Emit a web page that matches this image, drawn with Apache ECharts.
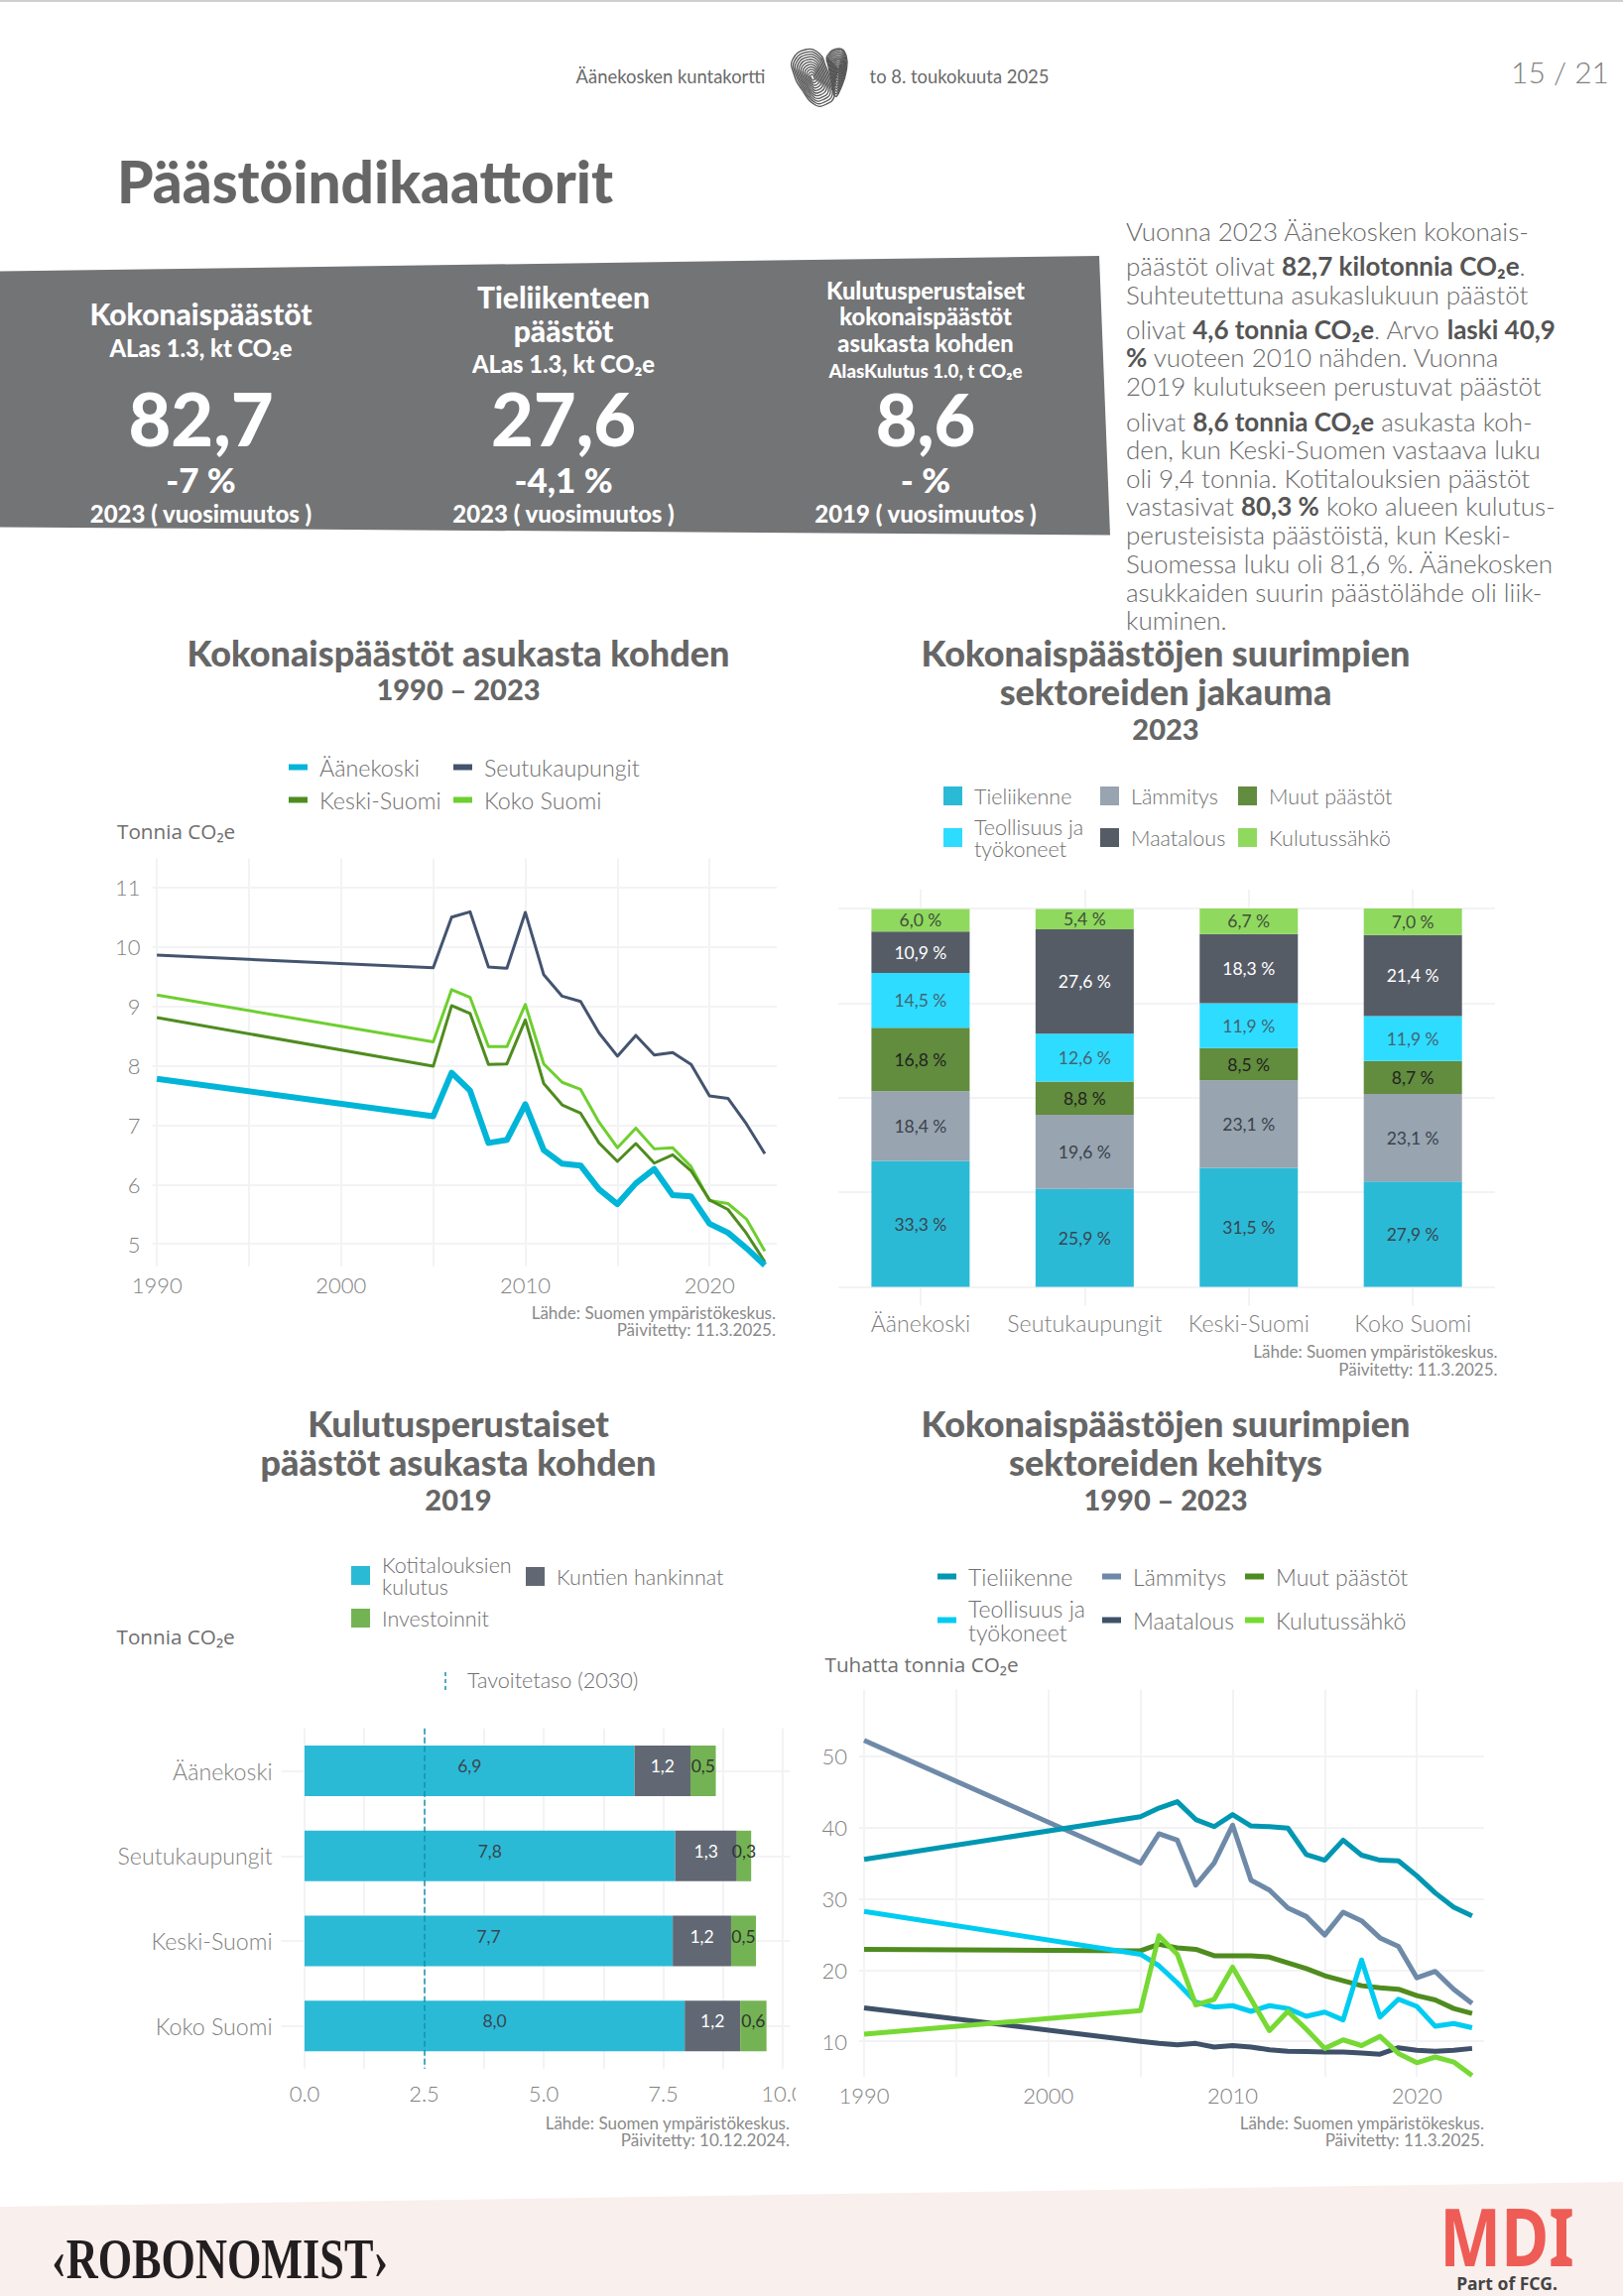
<!DOCTYPE html>
<html>
<head>
<meta charset="utf-8">
<title>Päästöindikaattorit</title>
<script src="https://cdn.jsdelivr.net/npm/echarts@6/dist/echarts.min.js"></script>
<style>
html, body { margin: 0; padding: 0; background: #fff; }
#page { width: 1636px; height: 2315px; }
</style>
</head>
<body>
<div id="page"></div>
<script>
// vuodet, 1990 jalkeen sarja alkaa vasta 2005
var years = [1990, 2005, 2006, 2007, 2008, 2009, 2010, 2011, 2012, 2013, 2014, 2015, 2016, 2017, 2018, 2019, 2020, 2021, 2022, 2023];

// kuva 1: kokonaispaastot asukasta kohden
var perCapitaAanekoski = [7.78, 7.15, 7.88, 7.58, 6.70, 6.75, 7.35, 6.58, 6.35, 6.32, 5.92, 5.67, 6.02, 6.26, 5.82, 5.80, 5.34, 5.19, 4.93, 4.64];
var perCapitaSeutu = [9.86, 9.65, 10.50, 10.59, 9.66, 9.64, 10.58, 9.53, 9.17, 9.08, 8.55, 8.16, 8.51, 8.18, 8.22, 8.02, 7.49, 7.45, 7.02, 6.52];
var perCapitaKeski = [8.81, 7.99, 9.01, 8.88, 8.02, 8.03, 8.77, 7.70, 7.34, 7.20, 6.70, 6.39, 6.69, 6.36, 6.50, 6.23, 5.74, 5.58, 5.18, 4.70];
var perCapitaKoko = [9.19, 8.40, 9.28, 9.15, 8.32, 8.32, 9.03, 8.03, 7.72, 7.60, 7.05, 6.62, 6.95, 6.60, 6.62, 6.30, 5.73, 5.68, 5.42, 4.88];

// kuva 2: sektoreiden jakauma 2023
var regions = ['Äänekoski', 'Seutukaupungit', 'Keski-Suomi', 'Koko Suomi'];
var shareTie = [33.3, 25.9, 31.5, 27.9];
var shareLam = [18.4, 19.6, 23.1, 23.1];
var shareMuut = [16.8, 8.8, 8.5, 8.7];
var shareTeol = [14.5, 12.6, 11.9, 11.9];
var shareMaa = [10.9, 27.6, 18.3, 21.4];
var shareSahko = [6.0, 5.4, 6.7, 7.0];

// kuva 3: kulutusperustaiset 2019
var consHouseholds = [6.90, 7.75, 7.70, 7.95];
var consMunicip = [1.17, 1.29, 1.22, 1.16];
var consInvest = [0.53, 0.30, 0.52, 0.55];
var targetLevel = 2.5;

// kuva 4: sektoreiden kehitys
var sectorTie = [35.5, 41.5, 42.7, 43.6, 41.1, 40.1, 41.8, 40.2, 40.1, 39.9, 36.2, 35.4, 38.2, 36.1, 35.4, 35.3, 33.2, 30.8, 28.8, 27.6];
var sectorLam = [52.2, 35.0, 39.1, 38.2, 31.9, 35.0, 40.3, 32.6, 31.2, 28.7, 27.5, 24.9, 28.1, 26.9, 24.5, 23.3, 18.9, 19.8, 17.3, 15.3];
var sectorTeol = [28.2, 22.2, 20.6, 18.2, 15.5, 14.8, 15.0, 14.2, 15.0, 14.6, 13.5, 14.1, 13.0, 21.4, 13.4, 15.9, 14.9, 12.1, 12.5, 11.9];
var sectorMuut = [22.9, 22.7, 23.6, 23.1, 22.9, 22.0, 22.0, 22.0, 21.8, 21.0, 20.2, 19.2, 18.5, 17.8, 17.5, 17.3, 16.4, 15.8, 14.6, 13.9];
var sectorMaa = [14.7, 10.0, 9.7, 9.5, 9.7, 9.2, 9.4, 9.2, 8.8, 8.6, 8.55, 8.5, 8.5, 8.35, 8.2, 9.1, 8.75, 8.6, 8.75, 9.0];
var sectorSahko = [11.0, 14.3, 24.8, 22.2, 15.1, 15.9, 20.4, 15.9, 11.5, 14.2, 11.7, 9.0, 10.2, 9.4, 10.7, 8.3, 7.0, 7.8, 7.1, 5.2];

// akselien merkinnat
var yearTicks = [1990, 1995, 2000, 2005, 2010, 2015, 2020];
var yearLabels = [1990, 2000, 2010, 2020];
var perCapitaTicks = [5, 6, 7, 8, 9, 10, 11];
var shareTicks = [0, 25, 50, 75, 100];
var consTicks = [0, 1.25, 2.5, 3.75, 5, 6.25, 7.5, 8.75, 10];
var consLabels = [0, 2.5, 5, 7.5, 10];
var sectorTicks = [10, 20, 30, 40, 50];

// sivun tekstit
var paragraph = [
    'Vuonna 2023 Äänekosken kokonais-',
    'päästöt olivat {b|82,7 kilotonnia CO₂e}.',
    'Suhteutettuna asukaslukuun päästöt',
    'olivat {b|4,6 tonnia CO₂e}. Arvo {b|laski 40,9}',
    '{b|%} vuoteen 2010 nähden. Vuonna',
    '2019 kulutukseen perustuvat päästöt',
    'olivat {b|8,6 tonnia CO₂e} asukasta koh-',
    'den, kun Keski-Suomen vastaava luku',
    'oli 9,4 tonnia. Kotitalouksien päästöt',
    'vastasivat {b|80,3 %} koko alueen kulutus-',
    'perusteisista päästöistä, kun Keski-',
    'Suomessa luku oli 81,6 %. Äänekosken',
    'asukkaiden suurin päästölähde oli liik-',
    'kuminen.'
];
var paragraphY = [234.7, 270, 298.8, 333.5, 362.4, 391, 426.5, 455, 483.7, 512, 541, 570, 599, 626.5];

var FONT = 'Lato';
var GRID = '#f3f3f5';
var AXIS_TEXT = '#7f7f7f';
var LEGEND_TEXT = '#6f6f6f';
var TITLE = '#666666';

function pairs(vals) {
    var res = [];
    for (var i = 0; i < vals.length; i++) {
        res.push([years[i], vals[i]]);
    }
    return res;
}

function txt(x, y, s, size, color, weight, align, family) {
    return {
        type: 'text', x: x, y: y - 2, z: 50, silent: true,
        style: {
            text: s, fontSize: size, fill: color, fontWeight: weight || 'normal',
            fontFamily: family || FONT, textAlign: align || 'left', align: align || 'left',
            textVerticalAlign: 'middle', verticalAlign: 'middle'
        }
    };
}

function comma(v, suffix) {
    return v.toFixed(1).replace('.', ',') + (suffix || '');
}

function lineSeries(name, vals, color, width, axis) {
    return {
        name: name, type: 'line', xAxisIndex: axis, yAxisIndex: axis,
        data: pairs(vals), symbol: 'none', silent: true, animation: false,
        lineStyle: {color: color, width: width, join: 'round'}
    };
}

function stackBar(name, vals, color, labelColor, axis, suffix, width, offset) {
    return {
        name: name, type: 'bar', stack: 'stack' + axis, xAxisIndex: axis, yAxisIndex: axis,
        data: vals, barWidth: width, silent: true, animation: false,
        itemStyle: {color: color},
        label: {
            show: true, position: 'inside', color: labelColor, fontFamily: FONT, fontSize: 17.5,
            offset: offset,
            formatter: function (p) { return comma(p.value, suffix); }
        }
    };
}

// yksi selite per rivi, niin paikat saa suoraan kuvasta
function legendItem(name, color, x, yc, kind, size, lines) {
    var n = lines || 1;
    var lh = size >= 22 ? 24 : 22;
    return {
        left: x, top: yc - 1.5 - n * lh / 2, padding: 0, orient: 'vertical', selectedMode: false,
        itemWidth: 19, itemHeight: kind === 'line' ? 6 : 19, icon: 'rect',
        textStyle: {fontFamily: FONT, fontSize: size, fontWeight: 300, color: LEGEND_TEXT, lineHeight: lh, padding: [0, 0, 0, 7]},
        data: [{name: name, itemStyle: {color: color}}]
    };
}

function yearAxis(idx, min, max) {
    return {
        type: 'value', gridIndex: idx, min: min, max: max,
        axisLine: {show: false}, axisTick: {show: false, customValues: yearTicks},
        splitLine: {show: true, lineStyle: {color: GRID, width: 2}},
        axisLabel: {
            customValues: yearLabels, color: AXIS_TEXT, fontFamily: FONT, fontSize: 22, fontWeight: 300, margin: 7,
            formatter: function (v) { return String(v); }
        }
    };
}

function sideAxis(idx, min, max, ticks, labels) {
    return {
        type: 'value', gridIndex: idx, min: min, max: max,
        axisLine: {show: false}, axisTick: {show: false, customValues: ticks},
        splitLine: {show: true, lineStyle: {color: GRID, width: 2}},
        axisLabel: {
            show: labels !== false, customValues: ticks, color: AXIS_TEXT, fontFamily: FONT, fontSize: 22, fontWeight: 300, margin: 12
        }
    };
}

// sormenjalki-sydan, sisakkaisia aaltoviivoja
function lobe(points, cx, cy) {
    var ks = [1, 0.91, 0.82, 0.73, 0.64, 0.55, 0.46, 0.37, 0.28, 0.19, 0.10];
    var out = [];
    for (var i = 0; i < ks.length; i++) {
        var pts = [];
        for (var j = 0; j < points.length; j++) {
            pts.push([cx + (points[j][0] - cx) * ks[i], cy + (points[j][1] - cy) * ks[i]]);
        }
        out.push({
            type: 'polygon', z: 50, silent: true,
            shape: {points: pts, smooth: 0.5},
            style: {fill: 'none', stroke: '#555555', lineWidth: 1.3}
        });
    }
    return out;
}

function pageGraphics() {
    var g = [];
    var i;
    // ylarivi
    g.push({type: 'rect', z: 1, silent: true, shape: {x: 0, y: 0, width: 1636, height: 2}, style: {fill: '#cfcfcf'}});
    g.push(txt(676, 79, 'Äänekosken kuntakortti', 18.4, '#6a6a6a', 'normal', 'center'));
    g.push(txt(967, 79, 'to 8. toukokuuta 2025', 18.4, '#6a6a6a', 'normal', 'center'));
    g.push(txt(1622, 74, '15 / 21', 30, '#808080', '300', 'right'));
    g = g.concat(lobe([[799, 60], [812, 50], [826, 54], [832, 66], [838, 84], [841, 97], [833, 105], [822, 106], [808, 90], [800, 74]], 819, 78));
    g = g.concat(lobe([[834, 56], [846, 49], [853, 56], [853, 72], [848, 88], [842, 97], [838, 80], [835, 67]], 845, 68));
    g.push(txt(118, 184, 'Päästöindikaattorit', 58.5, TITLE, '900'));

    // harmaa nauha
    g.push({type: 'polygon', z: 1, silent: true, shape: {points: [[0, 273.5], [1108, 258], [1119, 539.6], [0, 531.4]]}, style: {fill: '#737476'}});
    var w = '#ffffff';
    g.push(txt(202.5, 317.5, 'Kokonaispäästöt', 30, w, '900', 'center'));
    g.push(txt(202.5, 353, 'ALas 1.3, kt CO₂e', 23.7, w, '900', 'center'));
    g.push(txt(202.5, 423, '82,7', 74, w, '900', 'center'));
    g.push(txt(202.5, 485, '-7 %', 35, w, '900', 'center'));
    g.push(txt(202.5, 519, '2023 ( vuosimuutos )', 24, w, '900', 'center'));

    g.push(txt(568, 301, 'Tieliikenteen', 30, w, '900', 'center'));
    g.push(txt(568, 335, 'päästöt', 30, w, '900', 'center'));
    g.push(txt(568, 369, 'ALas 1.3, kt CO₂e', 23.7, w, '900', 'center'));
    g.push(txt(568, 423, '27,6', 74, w, '900', 'center'));
    g.push(txt(568, 485, '-4,1 %', 35, w, '900', 'center'));
    g.push(txt(568, 519, '2023 ( vuosimuutos )', 24, w, '900', 'center'));

    g.push(txt(933, 295, 'Kulutusperustaiset', 23.7, w, '900', 'center'));
    g.push(txt(933, 321, 'kokonaispäästöt', 23.7, w, '900', 'center'));
    g.push(txt(933, 348, 'asukasta kohden', 23.7, w, '900', 'center'));
    g.push(txt(933, 375, 'AlasKulutus 1.0, t CO₂e', 18.8, w, '900', 'center'));
    g.push(txt(933, 424, '8,6', 72, w, '900', 'center'));
    g.push(txt(933, 485, '- %', 35, w, '900', 'center'));
    g.push(txt(933, 519, '2019 ( vuosimuutos )', 24, w, '900', 'center'));

    // kappale
    for (i = 0; i < paragraph.length; i++) {
        var line = txt(1135, paragraphY[i], paragraph[i], 26, '#6a6a6a', '300');
        line.style.rich = {b: {fontSize: 26, fontFamily: FONT, fontWeight: 'bold', fill: '#555555'}};
        g.push(line);
    }

    // kuvien otsikot
    g.push(txt(462, 659.5, 'Kokonaispäästöt asukasta kohden', 36, TITLE, '900', 'center'));
    g.push(txt(462, 696, '1990 – 2023', 29, TITLE, '900', 'center'));
    g.push(txt(1175, 660, 'Kokonaispäästöjen suurimpien', 36, TITLE, '900', 'center'));
    g.push(txt(1175, 699, 'sektoreiden jakauma', 36, TITLE, '900', 'center'));
    g.push(txt(1175, 736, '2023', 29, TITLE, '900', 'center'));
    g.push(txt(462, 1436.5, 'Kulutusperustaiset', 36, TITLE, '900', 'center'));
    g.push(txt(462, 1476, 'päästöt asukasta kohden', 36, TITLE, '900', 'center'));
    g.push(txt(462, 1513, '2019', 29, TITLE, '900', 'center'));
    g.push(txt(1175, 1436.5, 'Kokonaispäästöjen suurimpien', 36, TITLE, '900', 'center'));
    g.push(txt(1175, 1476, 'sektoreiden kehitys', 36, TITLE, '900', 'center'));
    g.push(txt(1175, 1513, '1990 – 2023', 29, TITLE, '900', 'center'));

    // yksikot
    g.push(txt(118, 840, 'Tonnia CO₂e', 20.7, '#6e6e6e', 'normal', 'left', 'Open Sans'));
    g.push(txt(117.5, 1652, 'Tonnia CO₂e', 20.7, '#6e6e6e', 'normal', 'left', 'Open Sans'));
    g.push(txt(831.5, 1680, 'Tuhatta tonnia CO₂e', 20.7, '#6e6e6e', 'normal', 'left', 'Open Sans'));

    // lahteet
    var srcColor = '#8a8a8a';
    g.push(txt(782, 1325, 'Lähde: Suomen ympäristökeskus.', 17, srcColor, 'normal', 'right'));
    g.push(txt(782, 1342.5, 'Päivitetty: 11.3.2025.', 17, srcColor, 'normal', 'right'));
    g.push(txt(1509.6, 1364.5, 'Lähde: Suomen ympäristökeskus.', 17, srcColor, 'normal', 'right'));
    g.push(txt(1509.6, 1382.5, 'Päivitetty: 11.3.2025.', 17, srcColor, 'normal', 'right'));
    g.push(txt(796, 2142, 'Lähde: Suomen ympäristökeskus.', 17, srcColor, 'normal', 'right'));
    g.push(txt(796, 2159.5, 'Päivitetty: 10.12.2024.', 17, srcColor, 'normal', 'right'));
    g.push(txt(1496, 2142, 'Lähde: Suomen ympäristökeskus.', 17, srcColor, 'normal', 'right'));
    g.push(txt(1496, 2159.5, 'Päivitetty: 11.3.2025.', 17, srcColor, 'normal', 'right'));

    // tavoitetason selite
    g.push({type: 'line', z: 50, silent: true, shape: {x1: 449, y1: 1686, x2: 449, y2: 1704}, style: {stroke: '#1293ad', lineWidth: 1.5, lineDash: [4, 3]}});
    g.push(txt(471, 1695.5, 'Tavoitetaso (2030)', 21.6, LEGEND_TEXT, '300'));

    // 10.0 katkeaa alkuperaisessa kuvassa reunaan
    g.push({type: 'rect', z: 60, silent: true, shape: {x: 802, y: 2096, width: 24, height: 30}, style: {fill: '#ffffff'}});

    // alaosa
    g.push({type: 'polygon', z: 1, silent: true, shape: {points: [[0, 2225], [1636, 2200], [1636, 2315], [0, 2315]]}, style: {fill: '#f9efed'}});
    var robo = txt(52, 2280, '‹ROBONOMIST›', 56, '#231f20', 'bold', 'left', 'Liberation Serif');
    robo.scaleX = 0.79;
    g.push(robo);
    var mdi = txt(1519, 2256, 'MDI', 80, '#ee5c55', 'bold', 'center', 'Noto Sans');
    mdi.scaleX = 0.82;
    g.push(mdi);
    g.push(txt(1519, 2303.5, 'Part of FCG.', 17.5, '#444444', 'bold', 'center', 'Noto Sans'));
    return g;
}

var myChart = echarts.init(document.getElementById('page'), null, {renderer: 'svg'});

myChart.setOption({
    animation: false,
    backgroundColor: '#ffffff',
    graphic: pageGraphics(),
    grid: [
        {left: 153.5, top: 865.4, width: 629.5, height: 411.6},
        {left: 845.2, top: 897, width: 661.7, height: 419.5},
        {left: 283.6, top: 1742.7, width: 512.9, height: 343},
        {left: 866, top: 1703.5, width: 629.8, height: 390.5}
    ],
    xAxis: [
        yearAxis(0, 1989.75, 2023.65),
        {
            type: 'category', gridIndex: 1, data: regions,
            axisLine: {show: false}, axisTick: {show: false},
            splitLine: {show: true, alignWithLabel: true, lineStyle: {color: GRID, width: 2}},
            axisLabel: {color: AXIS_TEXT, fontFamily: FONT, fontSize: 23.2, fontWeight: 300, margin: 6, interval: 0}
        },
        {
            type: 'value', gridIndex: 2, min: -0.485, max: 10.155,
            axisLine: {show: false}, axisTick: {show: false, customValues: consTicks},
            splitLine: {show: true, lineStyle: {color: GRID, width: 2}},
            axisLabel: {
                customValues: consLabels, color: AXIS_TEXT, fontFamily: FONT, fontSize: 22, fontWeight: 300, margin: 14,
                formatter: function (v) { return v.toFixed(1); }
            }
        },
        yearAxis(3, 1989.73, 2023.64)
    ],
    yAxis: [
        sideAxis(0, 4.62, 11.49, perCapitaTicks),
        sideAxis(1, -4.95, 105, shareTicks, false),
        {
            type: 'category', gridIndex: 2, data: regions, inverse: true,
            axisLine: {show: false}, axisTick: {show: false},
            splitLine: {show: true, alignWithLabel: true, lineStyle: {color: GRID, width: 2}},
            axisLabel: {color: AXIS_TEXT, fontFamily: FONT, fontSize: 23.2, fontWeight: 300, margin: 9, interval: 0}
        },
        sideAxis(3, 5.02, 59.33, sectorTicks)
    ],
    legend: [
        legendItem('Äänekoski', '#00b5d8', 291, 775, 'line', 23.3),
        legendItem('Keski-Suomi', '#4f8c1f', 291, 808, 'line', 23.3),
        legendItem('Seutukaupungit', '#44546f', 457, 775, 'line', 23.3),
        legendItem('Koko Suomi', '#6ecf2f', 457, 808, 'line', 23.3),

        legendItem('Tieliikenne', '#2bbad6', 951, 804, 'box', 21.5),
        legendItem('Teollisuus ja\ntyökoneet', '#2edcff', 951, 846, 'box', 21.5, 2),
        legendItem('Lämmitys', '#98a4b0', 1109, 804, 'box', 21.5),
        legendItem('Maatalous', '#565c66', 1109, 846, 'box', 21.5),
        legendItem('Muut päästöt', '#628c3e', 1248, 804, 'box', 21.5),
        legendItem('Kulutussähkö', '#90d95f', 1248, 846, 'box', 21.5),

        legendItem('Kotitalouksien\nkulutus', '#2bbad6', 354, 1590, 'box', 21.5, 2),
        legendItem('Investoinnit', '#74b354', 354, 1633, 'box', 21.5),
        legendItem('Kuntien hankinnat', '#616873', 530, 1591, 'box', 21.5),

        legendItem('Tieliikenne', '#0097b2', 945, 1591, 'line', 23),
        legendItem('Teollisuus ja\ntyökoneet', '#00ccf2', 945, 1635, 'line', 23, 2),
        legendItem('Lämmitys', '#6e8aa8', 1111, 1591, 'line', 23),
        legendItem('Maatalous', '#3f5168', 1111, 1635, 'line', 23),
        legendItem('Muut päästöt', '#4f8c1f', 1255, 1591, 'line', 23),
        legendItem('Kulutussähkö', '#77d934', 1255, 1635, 'line', 23)
    ],
    series: [
        lineSeries('Seutukaupungit', perCapitaSeutu, '#44546f', 3, 0),
        lineSeries('Koko Suomi', perCapitaKoko, '#6ecf2f', 3, 0),
        lineSeries('Keski-Suomi', perCapitaKeski, '#4f8c1f', 3, 0),
        lineSeries('Äänekoski', perCapitaAanekoski, '#00b5d8', 6, 0),

        stackBar('Tieliikenne', shareTie, '#2bbad6', '#3a4650', 1, ' %', 99),
        stackBar('Lämmitys', shareLam, '#98a4b0', '#3a424b', 1, ' %', 99),
        stackBar('Muut päästöt', shareMuut, '#628c3e', '#1f241f', 1, ' %', 99),
        stackBar('Teollisuus ja\ntyökoneet', shareTeol, '#2edcff', '#456472', 1, ' %', 99),
        stackBar('Maatalous', shareMaa, '#565c66', '#ffffff', 1, ' %', 99),
        stackBar('Kulutussähkö', shareSahko, '#90d95f', '#40503a', 1, ' %', 99),

        (function () {
            var s = stackBar('Kotitalouksien\nkulutus', consHouseholds, '#2bbad6', '#3a4650', 2, '', 51, [0, -5]);
            s.markLine = {
                silent: true, symbol: 'none', label: {show: false}, animation: false,
                lineStyle: {type: 'dashed', color: '#1293ad', width: 1.5},
                data: [{xAxis: targetLevel}]
            };
            return s;
        })(),
        stackBar('Kuntien hankinnat', consMunicip, '#616873', '#ffffff', 2, '', 51, [0, -5]),
        stackBar('Investoinnit', consInvest, '#74b354', '#30352f', 2, '', 51, [0, -5]),

        lineSeries('Maatalous', sectorMaa, '#3f5168', 5, 3),
        lineSeries('Muut päästöt', sectorMuut, '#4f8c1f', 5, 3),
        lineSeries('Lämmitys', sectorLam, '#6e8aa8', 5, 3),
        lineSeries('Tieliikenne', sectorTie, '#0097b2', 5, 3),
        lineSeries('Teollisuus ja\ntyökoneet', sectorTeol, '#00ccf2', 5, 3),
        lineSeries('Kulutussähkö', sectorSahko, '#77d934', 5, 3)
    ]
});
</script>
</body>
</html>
